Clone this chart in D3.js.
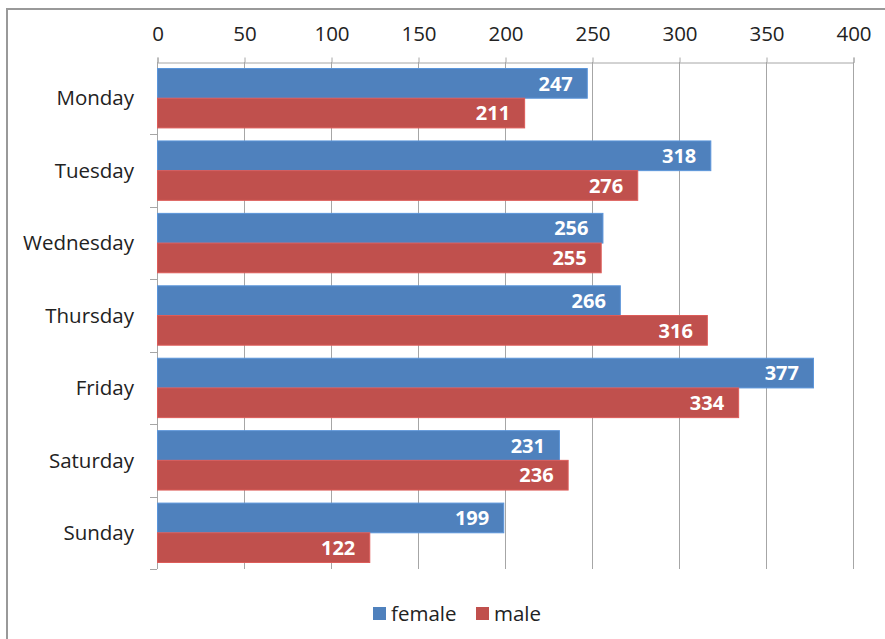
<!DOCTYPE html>
<html>
<head>
<meta charset="utf-8">
<script src="https://cdn.jsdelivr.net/npm/d3@7/dist/d3.min.js"></script>
<style>
  body { margin: 0; background: #fff; }
  svg { display: block; }
  text { font-family: "Open Sans", sans-serif; }
</style>
</head>
<body>
<svg id="chart" width="885" height="639"></svg>
<script>
const days = ['Monday', 'Tuesday', 'Wednesday', 'Thursday', 'Friday', 'Saturday', 'Sunday'];
const female = [247, 318, 256, 266, 377, 231, 199];
const male = [211, 276, 255, 316, 334, 236, 122];
const xTicks = [0, 50, 100, 150, 200, 250, 300, 350, 400];
const seriesNames = ['female', 'male'];
const seriesColors = ['#4F81BD', '#C0504D'];

const svg = d3.select('#chart');
const plot = { left: 157, right: 853, top: 62, bottom: 569 };
const gridColor = '#a6a6a6';
const textColor = '#222';

// outer frame (only top and left edges fall inside the picture)
svg.append('rect')
  .attr('x', 7).attr('y', 9)
  .attr('width', 900).attr('height', 660)
  .attr('fill', 'none')
  .attr('stroke', '#999')
  .attr('stroke-width', 2);

const x = d3.scaleLinear().domain([0, 400]).range([plot.left, plot.right]);
const y = d3.scaleBand().domain(days).range([plot.top, plot.bottom]).paddingInner(0.18).paddingOuter(0.09);
const ySub = d3.scaleBand().domain(seriesNames).range([0, y.bandwidth()]);

// vertical gridlines
svg.append('g')
  .selectAll('line')
  .data(xTicks.slice(1))
  .join('line')
  .attr('x1', d => Math.round(x(d)) + 0.5)
  .attr('x2', d => Math.round(x(d)) + 0.5)
  .attr('y1', plot.top)
  .attr('y2', plot.bottom)
  .attr('stroke', gridColor);

// top value axis
const xAxis = svg.append('g')
  .attr('transform', `translate(0.5,${plot.top + 0.5})`)
  .call(d3.axisTop(x).tickValues(xTicks).tickSize(5).tickPadding(17));
xAxis.select('.domain').attr('stroke', gridColor);
xAxis.selectAll('.tick line').attr('stroke', gridColor);
xAxis.selectAll('.tick text')
  .attr('fill', textColor)
  .style('font-size', '20.5px');

// category axis with ticks at band edges
const bandEdges = days.map(d => y(d) - y.step() * y.paddingInner() / 2)
  .concat([plot.bottom]);
const yAxis = svg.append('g');
yAxis.append('line')
  .attr('x1', plot.left + 0.5).attr('x2', plot.left + 0.5)
  .attr('y1', plot.top).attr('y2', plot.bottom)
  .attr('stroke', gridColor);
yAxis.selectAll('.edge')
  .data(bandEdges.slice(1))
  .join('line')
  .attr('class', 'edge')
  .attr('x1', plot.left - 7).attr('x2', plot.left)
  .attr('y1', d => Math.round(d) + 0.5)
  .attr('y2', d => Math.round(d) + 0.5)
  .attr('stroke', gridColor);
yAxis.selectAll('text')
  .data(days)
  .join('text')
  .attr('x', plot.left - 23)
  .attr('y', d => y(d) + y.bandwidth() / 2)
  .attr('dy', '0.35em')
  .attr('text-anchor', 'end')
  .attr('fill', textColor)
  .style('font-size', '20.5px')
  .text(d => d);

// bars
const rows = days.map((d, i) => ({ day: d, values: [female[i], male[i]] }));
const groups = svg.append('g')
  .selectAll('g')
  .data(rows)
  .join('g')
  .attr('transform', d => `translate(0,${y(d.day)})`);

const bars = groups.selectAll('g')
  .data(d => d.values.map((v, s) => ({ v, s })))
  .join('g');

bars.append('rect')
  .attr('x', x(0) + 0.5)
  .attr('y', d => ySub(seriesNames[d.s]))
  .attr('width', d => x(d.v) - x(0))
  .attr('height', ySub.bandwidth())
  .attr('fill', d => seriesColors[d.s])
  .attr('stroke', d => d3.rgb(seriesColors[d.s]).brighter(0.4))
  .attr('stroke-width', 1);

bars.append('text')
  .attr('x', d => x(d.v) - 14)
  .attr('y', d => ySub(seriesNames[d.s]) + ySub.bandwidth() / 2)
  .attr('dy', '0.36em')
  .attr('text-anchor', 'end')
  .attr('fill', '#fff')
  .style('font-size', '20px')
  .style('font-weight', 'bold')
  .text(d => d.v);

// legend
const legend = svg.append('g')
  .selectAll('g')
  .data(seriesNames)
  .join('g')
  .attr('transform', (d, i) => `translate(${i === 0 ? 373 : 476},607)`);
legend.append('rect')
  .attr('width', 13).attr('height', 13)
  .attr('fill', (d, i) => seriesColors[i]);
legend.append('text')
  .attr('x', 18).attr('y', 6.5)
  .attr('dy', '0.35em')
  .attr('fill', textColor)
  .style('font-size', '20.5px')
  .text(d => d);
</script>
</body>
</html>
